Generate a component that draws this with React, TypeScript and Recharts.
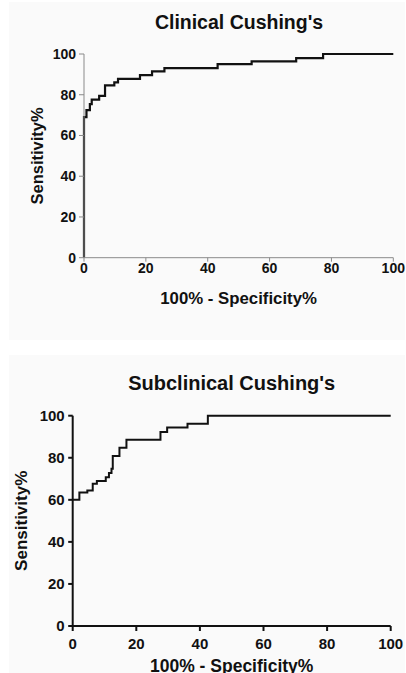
import React from "react";
import { LineChart, Line, XAxis, YAxis } from "recharts";

// Clinical Cushing's ROC (step points: x = 100% - specificity, y = sensitivity)
const clinicalFpr = [0, 0, 0.8, 1.9, 2.5, 4.9, 6.8, 9.8, 11.0, 18.1, 22.0, 26.0, 43.2, 54.2, 68.6, 77.3, 100];
const clinicalSens = [0, 69, 72.4, 75.4, 77.6, 79.4, 84.6, 86.1, 87.8, 89.6, 91.5, 93.1, 95.0, 96.4, 98.0, 100, 100];

// Subclinical Cushing's ROC
const subFpr = [0, 2.1, 4.6, 6.3, 7.6, 10.4, 11.4, 12.2, 12.6, 14.7, 16.9, 27.6, 29.7, 36.1, 42.5, 100];
const subSens = [60, 63.5, 64.4, 67.6, 69.0, 70.7, 72.8, 74.8, 80.8, 84.8, 88.6, 92.3, 94.4, 96.2, 100, 100];

const ticks = [0, 20, 40, 60, 80, 100];

const clinicalData = clinicalFpr.map((x, i) => ({ x, y: clinicalSens[i] }));
const subData = subFpr.map((x, i) => ({ x, y: subSens[i] }));

const FONT = '"Liberation Sans", Arial, Helvetica, sans-serif';

function makeXTick(size: number) {
  return (props: any) => (
    <text
      x={props.x}
      y={props.y}
      dy="0.71em"
      textAnchor="middle"
      fill="#111"
      fontSize={size}
      fontWeight={700}
      fontFamily={FONT}
    >
      {props.payload.value}
    </text>
  );
}

function makeYTick(size: number) {
  return (props: any) => (
    <text
      x={props.x}
      y={props.y}
      dy="0.355em"
      textAnchor="end"
      fill="#111"
      fontSize={size}
      fontWeight={700}
      fontFamily={FONT}
    >
      {props.payload.value}
    </text>
  );
}

export default function App() {
  return (
    <div
      style={{
        position: "absolute",
        left: 0,
        top: 0,
        width: 406,
        height: 673,
        background: "#ffffff",
        fontFamily: FONT,
        overflow: "hidden",
      }}
    >
      <div style={{ position: "absolute", left: 9, top: 2, width: 396, height: 338, background: "#fafafa" }} />
      <div style={{ position: "absolute", left: 9, top: 355, width: 396, height: 318, background: "#fafafa" }} />

      <div style={{ position: "absolute", left: 0, top: 0 }}>
        <LineChart
          width={406}
          height={340}
          data={clinicalData}
          margin={{ top: 54, right: 12.7, left: 44, bottom: 52.3 }}
        >
          <XAxis
            dataKey="x"
            type="number"
            domain={[0, 100]}
            ticks={ticks}
            height={30}
            axisLine={{ stroke: "#8a8a8a", strokeWidth: 1 }}
            tickLine={{ stroke: "#8a8a8a", strokeWidth: 1 }}
            tickSize={4}
            tickMargin={1}
            tick={makeXTick(14)}
            interval={0}
          />
          <YAxis
            dataKey="y"
            type="number"
            domain={[0, 100]}
            ticks={ticks}
            width={40}
            axisLine={{ stroke: "#8a8a8a", strokeWidth: 1 }}
            tickLine={{ stroke: "#8a8a8a", strokeWidth: 1 }}
            tickSize={5}
            tickMargin={3}
            tick={makeYTick(14)}
            interval={0}
          />
          <Line
            type="stepAfter"
            dataKey="y"
            stroke="#111"
            strokeWidth={2.2}
            dot={false}
            isAnimationActive={false}
          />
        </LineChart>
      </div>

      <div style={{ position: "absolute", left: 0, top: 340 }}>
        <LineChart
          width={406}
          height={333}
          data={subData}
          margin={{ top: 75.7, right: 15.3, left: 32.7, bottom: 17 }}
        >
          <XAxis
            dataKey="x"
            type="number"
            domain={[0, 100]}
            ticks={ticks}
            height={30}
            axisLine={{ stroke: "#111", strokeWidth: 2 }}
            tickLine={{ stroke: "#111", strokeWidth: 2 }}
            tickSize={5}
            tickMargin={7}
            tick={makeXTick(15)}
            interval={0}
          />
          <YAxis
            dataKey="y"
            type="number"
            domain={[0, 100]}
            ticks={ticks}
            width={40}
            axisLine={{ stroke: "#111", strokeWidth: 2 }}
            tickLine={{ stroke: "#111", strokeWidth: 2 }}
            tickSize={4.5}
            tickMargin={3.5}
            tick={makeYTick(15)}
            interval={0}
          />
          <Line
            type="stepAfter"
            dataKey="y"
            stroke="#111"
            strokeWidth={2}
            dot={false}
            isAnimationActive={false}
          />
        </LineChart>
      </div>

      <svg
        width={406}
        height={673}
        style={{ position: "absolute", left: 0, top: 0, pointerEvents: "none" }}
      >
        <g fill="#111" fontFamily={FONT} fontWeight={700}>
          <text x={239} y={29.3} fontSize={19.5} textAnchor="middle">
            Clinical Cushing's
          </text>
          <text x={238.6} y={303.7} fontSize={16.8} textAnchor="middle">
            100% - Specificity%
          </text>
          <text
            x={42.8}
            y={155.9}
            fontSize={16.5}
            textAnchor="middle"
            transform="rotate(-90, 42.8, 155.9)"
          >
            Sensitivity%
          </text>

          <text x={231.7} y={390} fontSize={20} textAnchor="middle">
            Subclinical Cushing's
          </text>
          <text x={231.7} y={671.5} fontSize={17.5} textAnchor="middle">
            100% - Specificity%
          </text>
          <text
            x={27.2}
            y={520.8}
            fontSize={17}
            textAnchor="middle"
            transform="rotate(-90, 27.2, 520.8)"
          >
            Sensitivity%
          </text>
        </g>
      </svg>
    </div>
  );
}
